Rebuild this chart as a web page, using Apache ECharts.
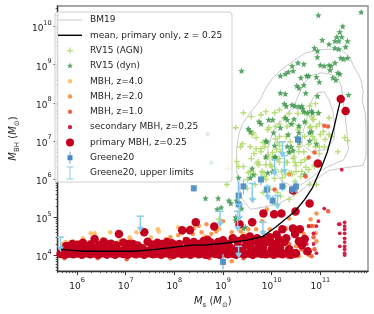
<!DOCTYPE html>
<html><head><meta charset="utf-8">
<script src="https://cdn.jsdelivr.net/npm/echarts@6/dist/echarts.min.js"></script>
<style>html,body{margin:0;padding:0;background:#fff}#c{width:374px;height:314px}</style>
</head><body><div id="c"></div>
<script>
// All coordinates are log10(M_s), log10(M_BH)
const xTickExps = [6, 7, 8, 9, 10, 11];
const yTickExps = [4, 5, 6, 7, 8, 9, 10];

const meanLine = [[5.67,4.16],[5.85,4.14],[6.17,4.11],[6.51,4.11],[7.18,4.11],[7.62,4.16],[8.02,4.22],[8.36,4.27],[8.62,4.27],[9.02,4.32],[9.5,4.4],[9.82,4.5],[10.08,4.74],[10.28,4.95],[10.48,5.16],[10.68,5.47],[10.84,5.78],[11.02,6.3],[11.14,6.7],[11.28,7.35],[11.4,8.0]];

const bm19Outer = [[9.40,7.45],[9.54,7.71],[9.74,8.03],[9.88,8.39],[10.02,8.65],[10.22,8.89],[10.50,9.15],[10.70,9.31],[10.98,9.39],[11.18,9.41],[11.44,9.39],[11.60,9.21],[11.70,8.92],[11.78,8.76],[11.84,8.58],[11.88,8.29],[11.86,8.03],[11.92,7.77],[11.94,7.40],[11.94,6.98],[11.94,6.62],[11.88,6.36],[11.50,6.30],[11.18,6.23],[10.84,5.94],[10.50,5.60],[10.16,5.37],[9.80,5.26],[9.56,5.21],[9.40,5.47],[9.32,5.84],[9.28,6.25],[9.28,6.78],[9.32,7.17],[9.40,7.45]];
const bm19Mid = [[10.02,7.22],[10.22,7.58],[10.46,7.92],[10.64,8.47],[10.80,8.71],[11.02,8.79],[11.18,8.76],[11.36,8.66],[11.44,8.40],[11.46,8.11],[11.50,7.77],[11.54,7.30],[11.58,6.78],[11.48,6.51],[11.16,6.33],[10.98,6.20],[10.68,5.91],[10.48,5.78],[10.22,5.94],[9.98,6.30],[9.92,6.78],[10.02,7.22]];
const bm19Inner = [[10.64,7.22],[10.78,7.85],[10.84,8.11],[10.94,8.26],[11.08,8.29],[11.18,8.08],[11.26,7.77],[11.30,7.40],[11.28,7.04],[11.12,6.78],[10.82,6.72],[10.62,6.91],[10.64,7.22]];

const rv15Agn = [[9.42,7.74],[9.58,7.64],[9.78,7.69],[9.88,7.77],[10.06,7.74],[10.16,7.82],[9.62,7.22],[9.68,7.09],[9.82,6.96],[9.56,6.85],[9.68,6.80],[9.78,6.72],[9.92,6.64],[10.02,6.57],[9.58,6.54],[9.72,6.46],[9.88,6.38],[10.12,6.51],[10.32,6.44],[10.46,6.59],[10.66,6.72],[10.76,6.91],[10.88,7.04],[10.98,6.85],[10.56,7.35],[10.32,7.38],[10.08,7.38],[10.16,7.12],[10.38,6.98],[10.68,7.12],[10.92,7.38],[10.82,7.64],[10.68,7.74],[10.96,7.74],[9.28,6.46],[9.10,6.28],[9.32,6.33],[10.88,6.33],[10.62,6.20],[10.36,6.17],[10.08,6.25],[9.82,6.17],[9.52,6.17],[9.26,7.35],[9.40,6.93],[9.60,7.17],[9.64,6.67],[9.78,6.80],[9.88,6.54],[9.98,6.38],[9.74,6.38],[10.16,6.54],[10.30,6.44],[10.44,6.54],[10.50,6.36],[10.60,6.44],[10.70,6.31],[10.88,6.38],[10.98,6.67],[11.08,6.85],[11.18,7.17],[11.06,7.25],[11.56,7.01],[10.54,7.30],[10.84,7.12],[10.08,7.06],[9.94,7.35],[10.16,6.88],[10.40,6.17],[10.60,6.07],[10.22,6.04],[10.78,5.86],[10.26,7.61],[10.36,7.72],[10.54,7.72],[10.78,7.92],[10.90,7.98],[10.84,7.58],[10.70,7.48],[10.44,7.45],[10.78,7.35],[10.98,7.45],[11.18,7.61],[10.16,7.45],[9.92,7.30],[10.02,6.70],[10.18,6.72],[10.36,6.70],[10.56,6.72],[10.68,6.51],[10.48,6.44],[10.16,6.44],[10.76,6.25],[10.92,5.86],[10.28,6.12],[9.88,5.99],[10.48,5.94],[10.26,5.81],[10.12,5.65],[9.96,5.73],[10.48,5.65],[11.36,6.72],[9.42,6.33],[9.56,6.20],[9.70,6.41],[9.80,6.20],[10.00,6.33],[10.20,6.20],[10.42,6.12],[10.06,6.02],[9.86,6.07],[9.66,6.12],[9.50,5.99],[9.66,5.86],[9.50,5.76],[10.50,6.20],[9.62,5.47],[10.06,5.37],[10.46,5.63],[10.18,5.55],[10.36,5.47],[9.08,5.86],[8.92,4.95],[9.82,5.65],[9.92,5.78],[10.12,6.96],[10.10,6.78],[10.30,7.12],[10.56,6.85],[10.90,6.85],[11.00,7.17],[11.10,7.04],[10.80,7.38],[10.86,7.56],[11.22,7.12],[11.50,7.09],[9.86,6.85],[9.36,6.85]];

const rv15Dyn = [[10.96,10.30],[11.84,10.38],[11.46,10.01],[11.40,9.86],[11.34,9.73],[11.44,9.73],[11.30,9.62],[11.38,9.62],[11.56,9.62],[11.04,9.65],[10.88,9.44],[10.94,9.36],[11.30,9.44],[11.38,9.41],[11.52,9.47],[11.42,9.18],[11.48,9.15],[10.94,9.20],[10.54,9.05],[10.66,9.02],[10.42,8.97],[11.00,8.99],[11.30,9.05],[11.18,8.99],[11.20,8.86],[11.36,8.79],[9.38,8.84],[10.34,8.81],[10.44,8.84],[10.28,8.76],[10.18,8.71],[10.60,8.66],[10.72,8.71],[10.92,8.68],[10.98,8.55],[11.26,8.66],[10.52,8.45],[10.66,8.47],[11.18,9.54],[11.56,9.18],[11.58,8.21],[11.08,8.97],[11.22,8.97],[11.40,8.76],[11.32,8.60],[10.76,8.71],[10.18,8.26],[10.28,8.24],[10.56,8.39],[10.70,8.26],[10.48,7.92],[10.62,7.92],[10.30,7.92],[10.64,7.85],[10.74,7.74],[10.84,7.74],[10.96,7.74],[9.78,7.45],[9.94,7.56],[10.02,7.56],[10.32,7.56],[10.40,7.45],[10.56,7.40],[9.56,7.25],[10.94,8.18],[10.26,7.98],[10.42,7.95],[10.56,7.90],[10.66,7.77],[10.82,7.79],[9.74,7.51],[10.28,7.61],[10.46,7.58],[10.68,7.51],[9.52,7.32],[9.88,7.01],[10.04,7.22],[10.34,7.17],[10.56,7.22],[10.52,7.09],[10.32,6.86],[10.36,6.72],[10.56,6.96],[10.82,7.25],[9.60,6.28],[9.62,6.12],[8.76,6.44],[8.68,7.19],[8.64,5.50],[9.12,5.44],[8.88,5.21],[8.96,5.26],[9.26,5.00],[9.42,4.71],[9.38,5.23],[8.90,5.50],[9.28,5.44],[9.46,4.74],[9.90,6.98],[10.06,6.88],[10.06,6.57],[10.44,6.75],[10.40,6.85],[10.56,7.06],[10.78,7.22],[10.18,7.35],[10.78,7.01],[10.92,6.93],[9.32,6.04],[9.56,6.04],[9.16,5.37],[9.26,4.92],[9.88,6.59],[10.08,6.59],[10.02,6.20],[10.68,6.12],[9.92,6.17]];

const mbhZ4 = [[6.36,4.58],[6.68,4.61],[7.08,4.48],[7.22,4.61],[7.68,4.63],[6.12,4.45],[5.76,4.35],[5.92,4.37],[6.52,4.43],[6.86,4.37],[7.52,4.48],[7.82,4.43],[6.28,4.58],[7.66,4.69],[8.08,4.74],[8.16,4.58],[10.48,4.63],[8.32,4.74],[8.92,4.69],[9.42,4.56],[8.62,4.5]];

const mbhZ2 = [[5.72,4.3],[6.06,4.35],[6.26,4.35],[6.46,4.35],[6.96,4.32],[7.22,4.3],[7.46,4.35],[7.66,4.3],[7.88,4.37],[7.92,4.48],[8.08,4.53],[8.22,4.43],[8.38,4.56],[8.56,4.61],[8.76,4.56],[8.86,4.63],[9.18,4.61],[9.36,4.63],[9.52,4.69],[9.68,4.69],[9.82,4.61],[9.96,4.69],[9.18,3.85],[8.4,4.71],[8.5,4.77],[8.66,4.82],[9.0,4.9],[9.9,5.21],[9.8,4.9],[10.3,4.71],[10.36,4.97],[10.76,4.77],[10.8,4.95],[10.86,4.77],[10.9,4.58],[10.66,4.56],[10.92,4.37],[10.56,3.98],[10.76,4.01],[10.36,6.12],[10.92,5.1],[10.5,4.24],[6.7,4.25],[7.1,4.4]];

const mbhZ1 = [[11.08,7.4],[10.76,6.57],[10.88,6.7],[11.16,7.38],[10.7,6.07],[11.16,5.16],[10.82,4.77],[10.48,4.56],[10.68,4.48],[10.86,4.48],[10.88,4.16],[10.62,4.16],[10.46,4.09],[10.68,4.09],[10.82,3.98],[10.34,3.96],[10.14,4.03],[9.92,3.98],[5.74,3.93],[6.42,3.93],[7.02,3.9],[7.92,3.93],[8.72,3.93],[9.42,3.93],[8.22,4.43],[7.52,4.35],[6.02,4.32],[10.06,5.73],[10.36,4.3],[9.7,4.26],[8.9,4.28],[6.9,4.28]];

const secondary = [[11.5,4.87],[11.5,4.77],[11.5,4.69],[11.5,4.58],[11.5,4.45],[11.5,4.35],[11.5,4.24],[11.5,4.16],[11.5,4.06],[11.5,4.01],[11.4,4.82],[11.4,4.58],[11.4,4.24],[11.44,6.25],[11.08,5.23],[10.92,4.77],[11.38,4.82],[10.96,4.9],[10.72,4.3],[10.86,4.3],[10.92,4.06],[10.7,4.06],[10.76,4.77],[10.86,4.58],[5.82,3.98],[6.62,3.96],[7.62,3.98],[8.62,3.96],[9.22,3.98],[9.62,3.96]];

const primary = [
[5.66,4.04],[5.75,4.02],[5.84,4.06],[5.92,4.03],[6.01,4.05],[6.1,4.02],[6.18,4.06],[6.27,4.03],[6.35,4.05],[6.44,4.02],[6.53,4.06],[6.61,4.03],[6.7,4.05],[6.78,4.02],[6.87,4.06],[6.95,4.04],[7.04,4.02],[7.13,4.06],[7.21,4.03],[7.3,4.05],[7.38,4.02],[7.47,4.06],[7.56,4.03],[7.64,4.05],[7.73,4.02],[7.81,4.06],[7.9,4.04],[7.98,4.02],[8.07,4.06],[8.16,4.03],[8.24,4.05],[8.33,4.02],[8.41,4.06],[8.5,4.03],[8.58,4.05],[8.67,4.02],[8.76,4.06],[8.84,4.04],[8.93,4.02],[9.01,4.06],[9.1,4.03],[9.18,4.05],[9.27,4.02],[9.36,4.06],[9.44,4.03],[9.53,4.05],[9.61,4.02],[9.7,4.06],[9.79,4.04],[9.87,4.03],[9.96,4.06],[10.04,4.02],[10.13,4.05],[10.22,4.03],[10.3,4.06],[10.4,4.02],[10.48,4.05],
[5.7,4.13],[5.79,4.17],[5.88,4.11],[5.97,4.15],[6.05,4.19],[6.14,4.12],[6.22,4.16],[6.31,4.1],[6.4,4.18],[6.48,4.13],[6.57,4.16],[6.65,4.11],[6.74,4.2],[6.82,4.14],[6.91,4.12],[7.0,4.17],[7.08,4.13],[7.17,4.11],[7.26,4.16],[7.34,4.19],[7.43,4.12],[7.51,4.15],[7.6,4.1],[7.68,4.18],[7.77,4.13],[7.85,4.21],[7.94,4.15],[8.03,4.12],[8.11,4.19],[8.2,4.14],[8.28,4.22],[8.37,4.16],[8.45,4.12],[8.54,4.2],[8.62,4.15],[8.71,4.23],[8.8,4.13],[8.88,4.19],[8.97,4.26],[9.05,4.16],[9.14,4.22],[9.22,4.14],[9.31,4.25],[9.4,4.18],[9.48,4.3],[9.57,4.2],[9.65,4.14],[9.74,4.28],[9.82,4.2],[9.91,4.35],[10.0,4.16],[10.08,4.27],[10.17,4.2],[10.26,4.35],
[5.9,4.3],[6.12,4.33],[6.28,4.29],[6.55,4.36],[6.7,4.31],[6.95,4.34],[7.15,4.3],[7.45,4.36],[7.65,4.33],[7.85,4.35],[8.0,4.28],[8.25,4.37],[8.5,4.3],[8.68,4.41],[8.9,4.35],[9.1,4.3],[9.42,4.45],[9.62,4.38],[9.85,4.42],[10.0,4.33],[10.15,4.42],
[5.78,4.25],[6.0,4.28],[6.2,4.24],[6.36,4.43],[6.45,4.27],[6.6,4.3],[6.86,4.56],[6.8,4.27],[7.05,4.3],[7.25,4.26],[7.38,4.61],[7.55,4.28],[7.75,4.3],[7.95,4.32],[8.16,4.66],[8.32,4.66],[8.44,4.87],[8.1,4.3],[8.4,4.35],[8.6,4.38],[8.82,4.76],[8.75,4.34],[9.0,4.4],[9.2,4.45],[9.34,4.82],[9.6,4.87],[9.3,4.38],[9.55,4.5],[9.7,4.45],[9.96,4.48],[10.22,4.69],[10.1,4.55],[10.58,4.69],[10.48,4.56],[10.3,4.45],[10.44,4.71],[10.56,4.37],[10.36,4.16],[10.5,4.06],[10.62,4.27],[10.74,4.11],[10.68,4.43],
[9.83,5.1],[10.05,5.08],[10.2,5.1],[10.49,5.15],[10.78,5.36],[10.44,5.7],[10.95,6.41],[11.42,8.1],[11.52,7.79]];

// [log Ms, log MBH, lower, upper]
const greene20 = [[8.40,5.76,5.68,5.84],[9.0,3.83,3.64,4.03],[9.32,5.57,5.21,5.94],[9.32,5.34,5.21,5.94],[9.42,5.81,5.60,5.99],[9.78,5.99,5.84,6.12],[9.90,5.73,5.57,5.86],[10.02,5.44,5.31,5.57],[10.22,5.81,5.68,5.94],[10.50,5.81,5.65,5.94],[10.42,5.73,5.63,5.84],[10.54,7.04,6.91,7.14]];
// [log Ms, upper limit (cap), arrow tip]
const greene20Upper = [[5.66,4.48,4.09],[7.30,5.03,4.61],[8.94,5.16,4.74],[9.30,5.16,4.63],[9.60,5.89,5.37],[9.92,5.81,5.44],[10.12,5.57,5.21],[9.82,4.87,4.50],[10.06,6.51,6.07],[10.26,6.62,6.12],[10.22,6.98,6.57],[9.34,5.34,4.90],[9.32,4.24,3.93]];

const X_MIN = 5.6, X_MAX = 11.98, Y_MIN = 3.59, Y_MAX = 10.54;
function minors(lo, hi) {
  const out = [];
  for (let n = Math.floor(lo) - 1; n <= Math.ceil(hi); n++)
    for (let k = 2; k <= 9; k++) { const v = n + Math.log10(k); if (v > lo && v < hi) out.push(v); }
  return out;
}
const FONT = 'DejaVu Sans';
const TXT = '#1e1e1e';
const tickRich = {
  b: { fontSize: 9, fontFamily: FONT, color: TXT, lineHeight: 14, verticalAlign: 'bottom' },
  s: { fontSize: 6.5, fontFamily: FONT, color: TXT, lineHeight: 7, verticalAlign: 'top' }
};
const nameRich = {
  i: { fontSize: 10, fontFamily: FONT, fontStyle: 'italic', color: TXT, lineHeight: 13, verticalAlign: 'top' },
  r: { fontSize: 10, fontFamily: FONT, color: TXT, lineHeight: 13, verticalAlign: 'top' },
  sb: { fontSize: 7, fontFamily: FONT, color: TXT, lineHeight: 7, verticalAlign: 'bottom' }
};
const fmt = v => '{b|10}{s|' + Math.round(v) + '}';

const PAD = 'M0,0M27,14';
const icons = {
  bm: 'path://' + PAD + 'M0,6.5L24,6.5L24,7.5L0,7.5Z',
  mean: 'path://' + PAD + 'M0,6.3L24,6.3L24,7.7L0,7.7Z',
  plus: 'path://' + PAD + 'M11.4,4L12.6,4L12.6,6.4L15,6.4L15,7.6L12.6,7.6L12.6,10L11.4,10L11.4,7.6L9,7.6L9,6.4L11.4,6.4Z',
  star: 'path://' + PAD + 'M12,3.8L12.85,5.84L15.04,6.01L13.37,7.44L13.88,9.59L12,8.44L10.12,9.59L10.63,7.44L8.96,6.01L11.15,5.84Z',
  dot: 'path://' + PAD + 'M9.8,7A2.2,2.2 0 1,0 14.2,7A2.2,2.2 0 1,0 9.8,7Z',
  big: 'path://' + PAD + 'M8,7A4,4 0 1,0 16,7A4,4 0 1,0 8,7Z',
  err: 'path://' + PAD + 'M11.6,1L12.4,1L12.4,13L11.6,13ZM9.5,4.5L14.5,4.5L14.5,9.5L9.5,9.5Z',
  lim: 'path://' + PAD + 'M11.5,1L12.5,1L12.5,13L11.5,13ZM8.5,0.5L15.5,0.5L15.5,1.5L8.5,1.5ZM8.5,12.5L15.5,12.5L15.5,13.5L8.5,13.5Z'
};
const C = {
  bm: '#c9c9c9', mean: '#000000', agn: '#b0da6c', dyn: '#3d984e',
  z4: '#fdc263', z2: '#f99447', z1: '#ef5d3a', sec: '#d21f45', pri: '#c4001f',
  gr: '#4a8ac4', grBar: '#8cc8ea', lim: '#87ceeb'
};
const PLUS = 'path://M-0.7,-3L0.7,-3L0.7,-0.7L3,-0.7L3,0.7L0.7,0.7L0.7,3L-0.7,3L-0.7,0.7L-3,0.7L-3,-0.7L-0.7,-0.7Z';
const STAR = 'path://M0,-10L2.65,-3.64L9.51,-3.09L4.28,1.39L5.88,8.09L0,4.5L-5.88,8.09L-4.28,1.39L-9.51,-3.09L-2.65,-3.64Z';

function scatter(name, data, color, symbol, size, z, opacity) {
  return { type: 'scatter', name, data, symbol, symbolSize: size, z,
    itemStyle: { color, opacity: opacity == null ? 1 : opacity }, emphasis: { disabled: true } };
}
function contour(data) {
  return { type: 'line', name: 'BM19', data, symbol: 'none', z: 1, lineStyle: { color: C.bm, width: 1 }, itemStyle: { color: C.bm }, emphasis: { disabled: true } };
}

const chart = echarts.init(document.getElementById('c'), null, { renderer: 'canvas' });
chart.setOption({
  animation: false,
  backgroundColor: '#fff',
  grid: { left: 49, right: 6, top: 6, bottom: 42, show: true, borderColor: '#8a8a8a', borderWidth: 1.4, backgroundColor: 'transparent' },
  xAxis: [
    { type: 'value', min: X_MIN, max: X_MAX, position: 'bottom',
      axisLine: { show: true, onZero: false, lineStyle: { color: '#333', width: 1.3 } },
      axisTick: { show: true, length: 4, customValues: xTickExps, lineStyle: { color: '#333', width: 1 } },
      axisLabel: { customValues: xTickExps, formatter: fmt, margin: 6, rich: tickRich },
      splitLine: { show: false },
      name: '{i|M}{sb|s}{r| (}{i|M}{sb|⊙}{r|)}', nameLocation: 'middle', nameGap: 22,
      nameTextStyle: { rich: nameRich, fontSize: 10, lineHeight: 13 } },
    { type: 'value', min: X_MIN, max: X_MAX, position: 'bottom', gridIndex: 0,
      axisLine: { show: false }, axisLabel: { show: false }, splitLine: { show: false },
      axisTick: { show: true, length: 2, customValues: minors(X_MIN, X_MAX), lineStyle: { color: '#333', width: 0.8 } } }
  ],
  yAxis: [
    { type: 'value', min: Y_MIN, max: Y_MAX, position: 'left',
      axisLine: { show: true, onZero: false, lineStyle: { color: '#333', width: 1.3 } },
      axisTick: { show: true, length: 4, customValues: yTickExps, lineStyle: { color: '#333', width: 1 } },
      axisLabel: { customValues: yTickExps, formatter: fmt, margin: 6, rich: tickRich },
      splitLine: { show: false },
      name: '{i|M}{sb|BH}{r| (}{i|M}{sb|⊙}{r|)}', nameLocation: 'middle', nameGap: 31,
      nameTextStyle: { rich: nameRich, fontSize: 10, lineHeight: 13 } },
    { type: 'value', min: Y_MIN, max: Y_MAX, position: 'left', gridIndex: 0,
      axisLine: { show: false }, axisLabel: { show: false }, splitLine: { show: false },
      axisTick: { show: true, length: 2, customValues: minors(Y_MIN, Y_MAX), lineStyle: { color: '#333', width: 0.8 } } }
  ],
  legend: {
    orient: 'vertical', left: 58, top: 13, padding: 0, itemGap: 1.3, itemWidth: 27, itemHeight: 14,
    selectedMode: false, z: 20,
    textStyle: { fontSize: 9, fontFamily: FONT, color: TXT },
    itemStyle: { borderWidth: 0 },
    data: [
      { name: 'BM19', icon: icons.bm, itemStyle: { color: C.bm } },
      { name: 'mean, primary only, z = 0.25', icon: icons.mean, itemStyle: { color: C.mean } },
      { name: 'RV15 (AGN)', icon: icons.plus, itemStyle: { color: C.agn } },
      { name: 'RV15 (dyn)', icon: icons.star, itemStyle: { color: C.dyn } },
      { name: 'MBH, z=4.0', icon: icons.dot, itemStyle: { color: C.z4 } },
      { name: 'MBH, z=2.0', icon: icons.dot, itemStyle: { color: C.z2 } },
      { name: 'MBH, z=1.0', icon: icons.dot, itemStyle: { color: C.z1 } },
      { name: 'secondary MBH, z=0.25', icon: icons.dot, itemStyle: { color: C.sec } },
      { name: 'primary MBH, z=0.25', icon: icons.big, itemStyle: { color: C.pri } },
      { name: 'Greene20', icon: icons.err, itemStyle: { color: C.gr } },
      { name: 'Greene20, upper limits', icon: icons.lim, itemStyle: { color: C.lim } }
    ]
  },
  graphic: [{ type: 'rect', z: 15, shape: { x: 55, y: 12, width: 177, height: 170, r: 3 },
    style: { fill: 'rgba(255,255,255,0.8)', stroke: '#cfcfcf', lineWidth: 1 } }],
  series: [
    contour(bm19Outer), contour(bm19Mid), contour(bm19Inner),
    scatter('RV15 (AGN)', rv15Agn, C.agn, PLUS, 6, 2, 0.9),
    scatter('RV15 (dyn)', rv15Dyn, C.dyn, STAR, 6.5, 3, 0.85),
    scatter('MBH, z=4.0', mbhZ4, C.z4, 'circle', 4.5, 4, 0.95),
    scatter('MBH, z=2.0', mbhZ2, C.z2, 'circle', 4.5, 5, 0.95),
    scatter('MBH, z=1.0', mbhZ1, C.z1, 'circle', 4.5, 6, 0.95),
    scatter('secondary MBH, z=0.25', secondary, C.sec, 'circle', 3.8, 7, 1),
    scatter('primary MBH, z=0.25', primary, C.pri, 'circle', 8.5, 8, 1),
    { type: 'custom', name: 'Greene20', z: 9, data: greene20, encode: { x: 0, y: [1, 2, 3] },
      itemStyle: { color: C.gr },
      renderItem: (params, api) => {
        const x = api.value(0), p = api.coord([x, api.value(1)]);
        const lo = api.coord([x, api.value(2)]), hi = api.coord([x, api.value(3)]);
        return { type: 'group', children: [
          { type: 'line', shape: { x1: lo[0], y1: lo[1], x2: hi[0], y2: hi[1] }, style: { stroke: C.grBar, lineWidth: 1.5 } },
          { type: 'rect', shape: { x: p[0] - 3, y: p[1] - 3, width: 6, height: 6 }, style: { fill: C.gr, opacity: 0.9 } }
        ] };
      } },
    { type: 'custom', name: 'Greene20, upper limits', z: 10, data: greene20Upper, encode: { x: 0, y: [1, 2] },
      itemStyle: { color: C.lim },
      renderItem: (params, api) => {
        const x = api.value(0);
        const t = api.coord([x, api.value(1)]), b = api.coord([x, api.value(2)]);
        return { type: 'group', children: [
          { type: 'line', shape: { x1: t[0], y1: t[1], x2: b[0], y2: b[1] - 3 }, style: { stroke: C.lim, lineWidth: 1.5 } },
          { type: 'line', shape: { x1: t[0] - 3.5, y1: t[1], x2: t[0] + 3.5, y2: t[1] }, style: { stroke: C.lim, lineWidth: 1.5 } },
          { type: 'polygon', shape: { points: [[b[0] - 3.5, b[1] - 5.5], [b[0] + 3.5, b[1] - 5.5], [b[0], b[1]]] }, style: { fill: C.lim } }
        ] };
      } },
    { type: 'line', name: 'mean, primary only, z = 0.25', data: meanLine, symbol: 'none', z: 11,
      lineStyle: { color: C.mean, width: 1.3 }, itemStyle: { color: C.mean }, emphasis: { disabled: true } }
  ]
});
</script>
</body></html>
